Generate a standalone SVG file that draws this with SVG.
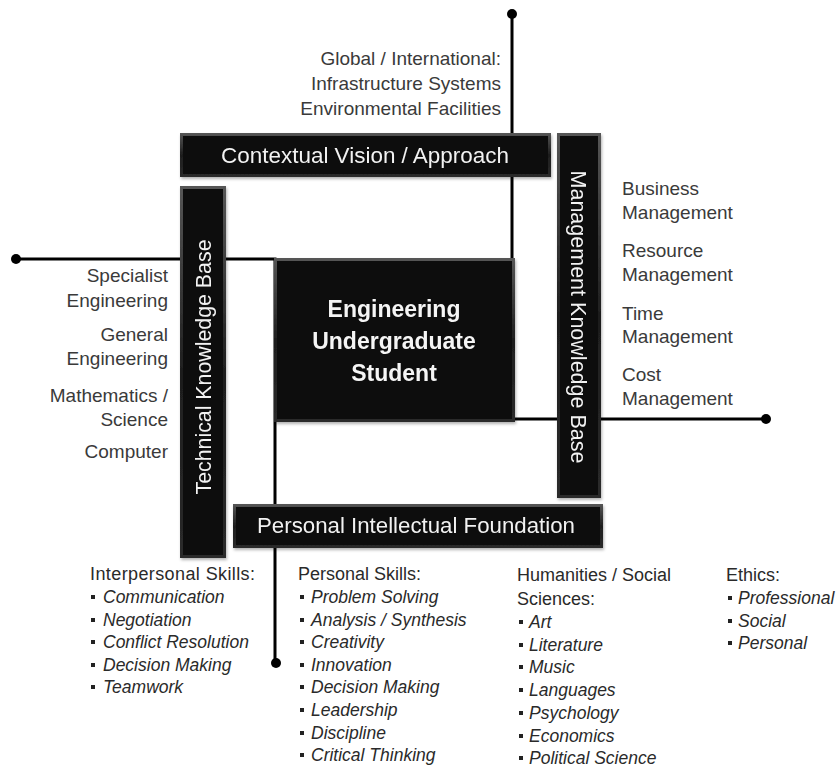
<svg xmlns="http://www.w3.org/2000/svg" width="836" height="769" viewBox="0 0 836 769">
  <defs>
    <linearGradient id="bevel" x1="0" y1="0" x2="0" y2="1">
      <stop offset="0" stop-color="#565656"/>
      <stop offset="0.5" stop-color="#1e1e1e"/>
      <stop offset="1" stop-color="#2a2a2a"/>
    </linearGradient>
    <filter id="shadow" x="-10%" y="-10%" width="130%" height="130%">
      <feDropShadow dx="1" dy="2" stdDeviation="1.5" flood-color="#000" flood-opacity="0.3"/>
    </filter>
    <style>
      .bar-edge { fill: url(#bevel); }
      .bar-face { fill: #0c0c0c; }
      .bar-text { font-family: "Liberation Sans", Arial, sans-serif; font-size: 22px; fill: #f2f2f2; }
      .core-text { font-family: "Liberation Sans", Arial, sans-serif; font-size: 23px; font-weight: bold; fill: #f5f5f5; text-anchor: middle; }
      .label { font-family: "Liberation Sans", Arial, sans-serif; font-size: 19px; fill: #3a3a3a; }
      .list { font-family: "Liberation Sans", Arial, sans-serif; font-size: 18px; fill: #2a2a2a; }
      .item { font-style: italic; font-size: 17.5px; }
      .wire { fill: none; stroke: #000; stroke-width: 3; }
      .dot { fill: #000; }
      .bullet { fill: #222; }
    </style>
  </defs>

  <rect width="836" height="769" fill="#fff"/>

  <!-- connectors, drawn beneath the bars -->
  <g id="connectors">
    <path class="wire" d="M512,14 V419 H766"/>
    <path class="wire" d="M16,259 H275 V663"/>
    <circle class="dot" cx="512" cy="14" r="5"/>
    <circle class="dot" cx="766" cy="419" r="5"/>
    <circle class="dot" cx="16" cy="259" r="5"/>
    <circle class="dot" cx="276" cy="663" r="5"/>
  </g>

  <!-- Contextual Vision bar -->
  <g id="contextual" filter="url(#shadow)">
    <rect class="bar-edge" x="180" y="133" width="371" height="44"/>
    <rect class="bar-face" x="183" y="136" width="365" height="38"/>
    <text class="bar-text" x="365" y="163" text-anchor="middle" textLength="288" lengthAdjust="spacingAndGlyphs">Contextual Vision / Approach</text>
  </g>

  <!-- Technical Knowledge Base bar -->
  <g id="technical" filter="url(#shadow)">
    <rect class="bar-edge" x="180" y="186" width="46" height="372"/>
    <rect class="bar-face" x="183" y="189" width="40" height="366"/>
    <text class="bar-text" transform="translate(211,367) rotate(-90)" text-anchor="middle" textLength="255" lengthAdjust="spacingAndGlyphs">Technical Knowledge Base</text>
  </g>

  <!-- Management Knowledge Base bar -->
  <g id="management" filter="url(#shadow)">
    <rect class="bar-edge" x="557" y="133" width="44" height="365"/>
    <rect class="bar-face" x="560" y="136" width="38" height="359"/>
    <text class="bar-text" transform="translate(571,317) rotate(90)" text-anchor="middle" textLength="293" lengthAdjust="spacingAndGlyphs">Management Knowledge Base</text>
  </g>

  <!-- Personal Intellectual Foundation bar -->
  <g id="foundation" filter="url(#shadow)">
    <rect class="bar-edge" x="233" y="504" width="370" height="44"/>
    <rect class="bar-face" x="236" y="507" width="364" height="38"/>
    <text class="bar-text" x="416" y="533" text-anchor="middle" textLength="318" lengthAdjust="spacingAndGlyphs">Personal Intellectual Foundation</text>
  </g>

  <!-- central node -->
  <g id="student" filter="url(#shadow)">
    <rect class="bar-edge" x="274" y="258" width="241" height="164"/>
    <rect class="bar-face" x="277" y="261" width="235" height="158"/>
    <text class="core-text" x="394" y="317">Engineering</text>
    <text class="core-text" x="394" y="349">Undergraduate</text>
    <text class="core-text" x="394" y="381">Student</text>
  </g>

  <!-- global scope labels -->
  <g id="global-labels" class="label" text-anchor="end">
    <text x="501" y="65">Global / International:</text>
    <text x="501" y="90">Infrastructure Systems</text>
    <text x="501" y="115">Environmental Facilities</text>
  </g>

  <!-- technical topics -->
  <g id="technical-labels" class="label" text-anchor="end">
    <text x="168" y="282">Specialist</text>
    <text x="168" y="307">Engineering</text>
    <text x="168" y="341">General</text>
    <text x="168" y="365">Engineering</text>
    <text x="168" y="402">Mathematics /</text>
    <text x="168" y="426">Science</text>
    <text x="168" y="458">Computer</text>
  </g>

  <!-- management topics -->
  <g id="management-labels" class="label">
    <text x="622" y="195">Business</text>
    <text x="622" y="219">Management</text>
    <text x="622" y="257">Resource</text>
    <text x="622" y="281">Management</text>
    <text x="622" y="320">Time</text>
    <text x="622" y="343">Management</text>
    <text x="622" y="381">Cost</text>
    <text x="622" y="405">Management</text>
  </g>

  <!-- interpersonal skills list -->
  <g id="interpersonal" class="list">
    <text x="90" y="580" textLength="165">Interpersonal Skills:</text>
    <rect class="bullet" x="91" y="595" width="4" height="4"/>
    <rect class="bullet" x="91" y="618" width="4" height="4"/>
    <rect class="bullet" x="91" y="640" width="4" height="4"/>
    <rect class="bullet" x="91" y="663" width="4" height="4"/>
    <rect class="bullet" x="91" y="685" width="4" height="4"/>
    <text class="item" x="103" y="603">Communication</text>
    <text class="item" x="103" y="626">Negotiation</text>
    <text class="item" x="103" y="648">Conflict Resolution</text>
    <text class="item" x="103" y="671">Decision Making</text>
    <text class="item" x="103" y="693">Teamwork</text>
  </g>

  <!-- personal skills list -->
  <g id="personal" class="list">
    <text x="298" y="580">Personal Skills:</text>
    <rect class="bullet" x="300" y="595" width="4" height="4"/>
    <rect class="bullet" x="300" y="618" width="4" height="4"/>
    <rect class="bullet" x="300" y="640" width="4" height="4"/>
    <rect class="bullet" x="300" y="663" width="4" height="4"/>
    <rect class="bullet" x="300" y="685" width="4" height="4"/>
    <rect class="bullet" x="300" y="708" width="4" height="4"/>
    <rect class="bullet" x="300" y="731" width="4" height="4"/>
    <rect class="bullet" x="300" y="753" width="4" height="4"/>
    <text class="item" x="311" y="603">Problem Solving</text>
    <text class="item" x="311" y="626">Analysis / Synthesis</text>
    <text class="item" x="311" y="648">Creativity</text>
    <text class="item" x="311" y="671">Innovation</text>
    <text class="item" x="311" y="693">Decision Making</text>
    <text class="item" x="311" y="716">Leadership</text>
    <text class="item" x="311" y="739">Discipline</text>
    <text class="item" x="311" y="761">Critical Thinking</text>
  </g>

  <!-- humanities list -->
  <g id="humanities" class="list">
    <text x="517" y="581">Humanities / Social</text>
    <text x="517" y="605">Sciences:</text>
    <rect class="bullet" x="519" y="620" width="4" height="4"/>
    <rect class="bullet" x="519" y="643" width="4" height="4"/>
    <rect class="bullet" x="519" y="665" width="4" height="4"/>
    <rect class="bullet" x="519" y="688" width="4" height="4"/>
    <rect class="bullet" x="519" y="711" width="4" height="4"/>
    <rect class="bullet" x="519" y="734" width="4" height="4"/>
    <rect class="bullet" x="519" y="756" width="4" height="4"/>
    <text class="item" x="529" y="628">Art</text>
    <text class="item" x="529" y="651">Literature</text>
    <text class="item" x="529" y="673">Music</text>
    <text class="item" x="529" y="696">Languages</text>
    <text class="item" x="529" y="719">Psychology</text>
    <text class="item" x="529" y="742">Economics</text>
    <text class="item" x="529" y="764">Political Science</text>
  </g>

  <!-- ethics list -->
  <g id="ethics" class="list">
    <text x="726" y="581">Ethics:</text>
    <rect class="bullet" x="728" y="596" width="4" height="4"/>
    <rect class="bullet" x="728" y="619" width="4" height="4"/>
    <rect class="bullet" x="728" y="641" width="4" height="4"/>
    <text class="item" x="738" y="604">Professional</text>
    <text class="item" x="738" y="627">Social</text>
    <text class="item" x="738" y="649">Personal</text>
  </g>
</svg>
